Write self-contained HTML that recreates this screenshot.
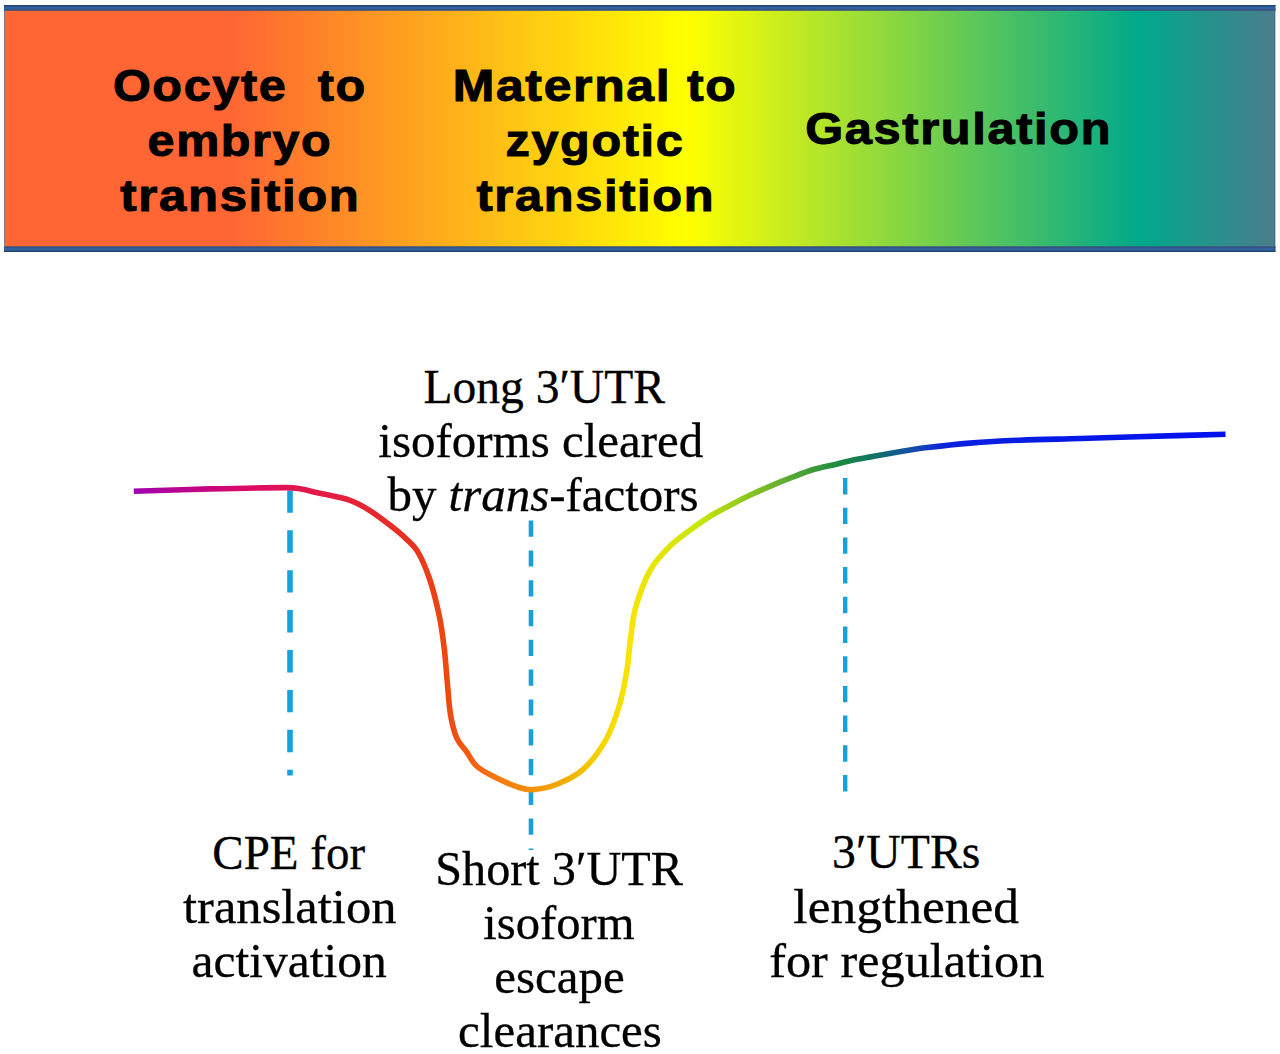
<!DOCTYPE html>
<html>
<head>
<meta charset="utf-8">
<style>
html,body{margin:0;padding:0;background:#fff;width:1280px;height:1054px;overflow:hidden;}
svg{display:block;}
.b{font-family:"Liberation Sans",sans-serif;font-weight:bold;fill:#000;stroke:#000;}
.s{font-family:"Liberation Serif",serif;fill:#000;stroke:#000;}
</style>
</head>
<body>
<svg width="1280" height="1054" viewBox="0 0 1280 1054">
<defs>
<linearGradient id="bg" x1="4" y1="0" x2="1275" y2="0" gradientUnits="userSpaceOnUse">
<stop offset="0" stop-color="#ff6633"/>
<stop offset="0.18" stop-color="#ff6633"/>
<stop offset="0.537" stop-color="#ffff00"/>
<stop offset="0.894" stop-color="#00a88c"/>
<stop offset="1" stop-color="#4a7d8c"/>
</linearGradient>
<linearGradient id="cg" x1="134" y1="0" x2="1226" y2="0" gradientUnits="userSpaceOnUse">
<stop offset="0" stop-color="#a000b0"/>
<stop offset="0.1044" stop-color="#dc0a64"/>
<stop offset="0.2509" stop-color="#e83020"/>
<stop offset="0.2894" stop-color="#f04a10"/>
<stop offset="0.3333" stop-color="#f87810"/>
<stop offset="0.3901" stop-color="#f0a800"/>
<stop offset="0.4313" stop-color="#f5d800"/>
<stop offset="0.4542" stop-color="#f8e400"/>
<stop offset="0.5183" stop-color="#c8e60a"/>
<stop offset="0.5916" stop-color="#64b030"/>
<stop offset="0.6465" stop-color="#1a8a40"/>
<stop offset="0.6795" stop-color="#107068"/>
<stop offset="0.7161" stop-color="#1448b0"/>
<stop offset="0.745" stop-color="#0a20e0"/>
<stop offset="1" stop-color="#0010f0"/>
</linearGradient>
</defs>
<rect x="4.5" y="8" width="1270.5" height="241" fill="url(#bg)" stroke="#2a4a70" stroke-opacity="0.55" stroke-width="1"/>
<rect x="4" y="5" width="1271.5" height="5.5" fill="#30609e"/><rect x="4" y="5" width="1271.5" height="1.3" fill="#1e4272"/><rect x="4" y="9.4" width="1271.5" height="1.2" fill="#3a4e78"/>
<rect x="4" y="246.5" width="1271.5" height="5.5" fill="#30609e"/><rect x="4" y="246.5" width="1271.5" height="1.2" fill="#3a4e78"/><rect x="4" y="250.7" width="1271.5" height="1.3" fill="#1e4272"/>
<line x1="290" y1="490.4" x2="290" y2="775.5" stroke="#18a0dc" stroke-width="5.6" stroke-dasharray="22.4 17.5"/>
<line x1="531" y1="520.6" x2="531" y2="850" stroke="#18a0dc" stroke-width="4.6" stroke-dasharray="16.2 13.6"/>
<line x1="845.2" y1="478" x2="845.2" y2="792" stroke="#18a0dc" stroke-width="4.4" stroke-dasharray="16.4 13.3"/>
<path d="M133.8,491.3 C146.5,490.9 184.6,489.5 210.0,488.9 C235.2,488.3 260.4,487.7 285.6,487.6 C290.0,487.6 294.4,487.8 298.8,488.5 C305.1,489.5 311.3,491.4 317.5,492.8 C328.3,495.3 339.5,496.8 350.0,500.3 C356.9,502.6 363.3,506.4 369.5,510.3 C377.7,515.5 385.3,521.6 393.0,527.5 C396.5,530.2 399.9,533.0 403.1,536.1 C408.0,540.8 413.7,545.2 417.2,550.9 C422.5,559.5 426.3,569.3 429.6,579.0 C433.8,591.3 436.8,604.1 439.5,616.9 C441.7,627.5 443.0,638.3 444.3,649.0 C445.8,661.6 446.5,674.3 447.7,686.9 C448.6,696.3 449.0,705.9 450.6,715.2 C452.0,722.9 453.6,730.8 456.7,737.9 C459.0,743.2 463.4,747.4 466.8,752.2 C470.0,756.8 472.4,762.3 476.5,766.0 C481.5,770.5 488.0,773.7 494.1,776.8 C502.2,780.9 510.6,784.7 519.2,787.5 C523.6,788.9 528.4,790.0 533.0,789.6 C540.8,789.0 549.1,787.4 556.4,784.5 C565.7,780.8 575.5,776.3 582.8,769.7 C592.0,761.4 599.7,750.6 605.9,739.8 C612.0,729.1 615.9,716.9 619.5,705.0 C622.9,693.7 625.0,682.0 626.9,670.4 C628.6,660.4 629.0,650.1 630.4,640.0 C631.9,629.3 632.6,618.3 635.5,608.0 C639.2,595.0 643.7,581.7 650.3,570.0 C655.4,560.9 663.2,553.0 670.6,545.6 C676.7,539.5 683.9,534.5 690.9,529.4 C697.5,524.5 704.3,519.8 711.2,515.5 C717.8,511.5 724.8,508.1 731.6,504.5 C738.3,501.0 745.1,497.5 751.9,494.3 C758.6,491.1 765.4,488.2 772.2,485.3 C778.9,482.5 785.7,479.8 792.5,477.2 C799.2,474.6 805.8,471.9 812.6,469.8 C819.3,467.8 826.3,466.5 833.1,464.9 C839.9,463.3 846.6,461.4 853.4,460.0 C860.1,458.6 867.0,457.5 873.8,456.2 C883.7,454.5 893.7,452.8 903.8,451.1 C910.8,449.9 917.9,448.7 925.0,447.8 C940.0,446.0 955.0,444.3 970.0,443.1 C986.6,441.8 1003.3,440.9 1020.0,440.2 C1040.0,439.4 1060.0,439.1 1080.0,438.5 C1112.1,437.5 1144.1,436.5 1176.2,435.6 C1192.6,435.1 1217.3,434.5 1225.5,434.3" fill="none" stroke="url(#cg)" stroke-width="5.6" stroke-linejoin="round"/>

<text class="b" text-anchor="middle" x="0" y="101.00" font-size="44" letter-spacing="1.50" stroke-width="1.0" transform="translate(239.90 0) scale(1.1036 1)">Oocyte &#160;to</text>
<text class="b" text-anchor="middle" x="0" y="155.60" font-size="44" letter-spacing="1.50" stroke-width="1.0" transform="translate(239.95 0) scale(1.1003 1)">embryo</text>
<text class="b" text-anchor="middle" x="0" y="210.80" font-size="44" letter-spacing="1.50" stroke-width="1.0" transform="translate(240.40 0) scale(1.1149 1)">transition</text>
<text class="b" text-anchor="middle" x="0" y="101.00" font-size="44" letter-spacing="1.50" stroke-width="1.0" transform="translate(595.00 0) scale(1.1338 1)">Maternal to</text>
<text class="b" text-anchor="middle" x="0" y="155.60" font-size="44" letter-spacing="1.50" stroke-width="1.0" transform="translate(594.90 0) scale(1.1030 1)">zygotic</text>
<text class="b" text-anchor="middle" x="0" y="210.80" font-size="44" letter-spacing="1.50" stroke-width="1.0" transform="translate(595.80 0) scale(1.1082 1)">transition</text>
<text class="b" text-anchor="middle" x="0" y="144.00" font-size="44" letter-spacing="1.50" stroke-width="1.0" transform="translate(958.70 0) scale(1.1075 1)">Gastrulation</text>
<text class="s" text-anchor="middle" x="0" y="402.80" font-size="48" letter-spacing="0.00" stroke-width="0.3" transform="translate(544.15 0) scale(0.9909 1)">Long 3′UTR</text>
<text class="s" text-anchor="middle" x="0" y="456.70" font-size="48" letter-spacing="0.00" stroke-width="0.3" transform="translate(540.80 0) scale(1.0203 1)">isoforms cleared</text>
<text class="s" text-anchor="middle" x="0" y="511.30" font-size="48" letter-spacing="0.00" stroke-width="0.3" transform="translate(543.00 0) scale(1.0193 1)">by <tspan font-style="italic">trans</tspan>-factors</text>
<text class="s" text-anchor="middle" x="0" y="868.70" font-size="48" letter-spacing="0.00" stroke-width="0.3" transform="translate(288.70 0) scale(0.9798 1)">CPE for</text>
<text class="s" text-anchor="middle" x="0" y="922.70" font-size="48" letter-spacing="0.00" stroke-width="0.3" transform="translate(289.75 0) scale(1.0535 1)">translation</text>
<text class="s" text-anchor="middle" x="0" y="977.30" font-size="48" letter-spacing="0.00" stroke-width="0.3" transform="translate(289.20 0) scale(1.0328 1)">activation</text>
<text class="s" text-anchor="middle" x="0" y="885.50" font-size="48" letter-spacing="0.00" stroke-width="0.3" transform="translate(559.05 0) scale(1.0049 1)">Short 3′UTR</text>
<text class="s" text-anchor="middle" x="0" y="938.80" font-size="48" letter-spacing="0.00" stroke-width="0.3" transform="translate(558.95 0) scale(1.0131 1)">isoform</text>
<text class="s" text-anchor="middle" x="0" y="993.00" font-size="48" letter-spacing="0.00" stroke-width="0.3" transform="translate(559.50 0) scale(1.0195 1)">escape</text>
<text class="s" text-anchor="middle" x="0" y="1047.30" font-size="48" letter-spacing="0.00" stroke-width="0.3" transform="translate(560.00 0) scale(1.0201 1)">clearances</text>
<text class="s" text-anchor="middle" x="0" y="868.00" font-size="48" letter-spacing="0.00" stroke-width="0.3" transform="translate(906.15 0) scale(0.9937 1)">3′UTRs</text>
<text class="s" text-anchor="middle" x="0" y="922.70" font-size="48" letter-spacing="0.00" stroke-width="0.3" transform="translate(906.15 0) scale(1.0716 1)">lengthened</text>
<text class="s" text-anchor="middle" x="0" y="977.30" font-size="48" letter-spacing="0.00" stroke-width="0.3" transform="translate(906.80 0) scale(1.0481 1)">for regulation</text>
</svg>
</body>
</html>
